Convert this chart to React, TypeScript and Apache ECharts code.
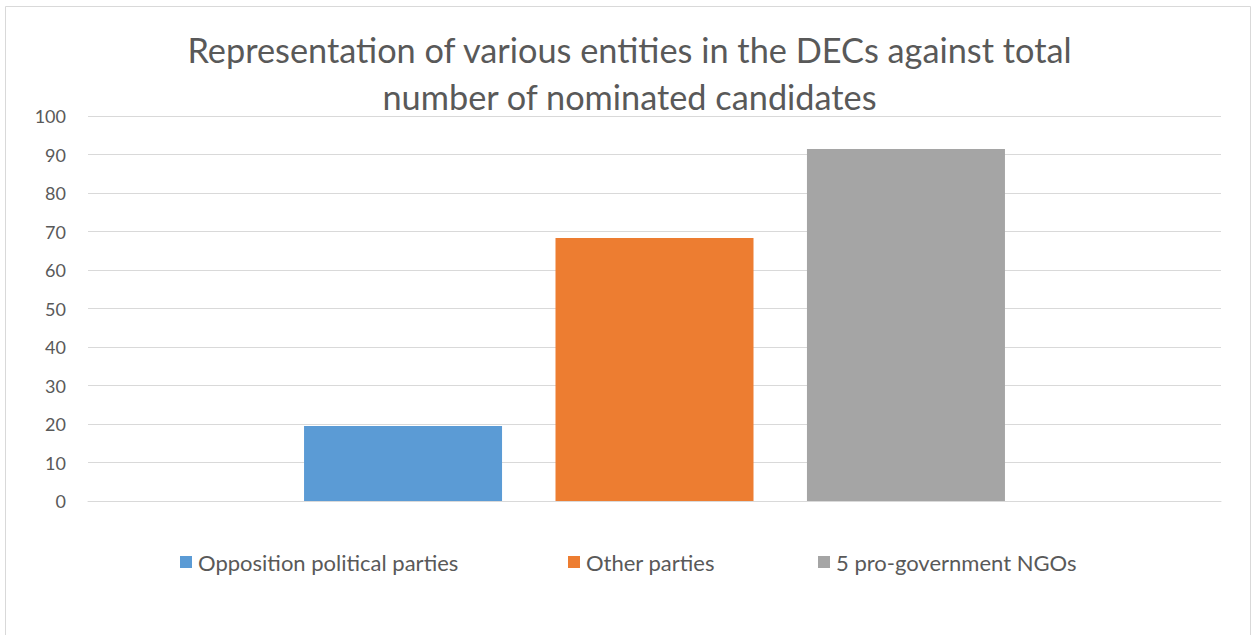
import React, { useEffect, useRef } from "react";
import * as echarts from "echarts";

const categories = [""];
const seriesNames = ["Opposition political parties", "Other parties", "5 pro-government NGOs"];
const seriesValues = [[19.5], [68.3], [91.4]];
const seriesColors = ["#5b9bd5", "#ed7d31", "#a5a5a5"];
const titleLines = ["Representation of various entities in the DECs against total", "number of nominated candidates"];
const legendLefts = [175, 563, 813];

export default function App() {
  const ref = useRef<HTMLDivElement>(null);
  useEffect(() => {
    if (!ref.current) return;
    const chart = echarts.init(ref.current, null, { renderer: "svg" });
    const font = "Lato, 'Open Sans', sans-serif";
    chart.setOption({
      animation: false,
      backgroundColor: "#ffffff",
      title: {
        text: titleLines.join("\n"),
        left: "center",
        top: 21,
        textStyle: { fontFamily: font, fontSize: 34.3, fontWeight: "normal", color: "#595959", lineHeight: 47 },
      },
      graphic: [
        {
          type: "rect",
          shape: { x: 5.5, y: 6.5, width: 1245, height: 700 },
          style: { fill: "none", stroke: "#d9d9d9", lineWidth: 1 },
          silent: true,
        },
      ],
      legend: seriesNames.map((n, i) => ({
        data: [n],
        left: legendLefts[i],
        top: 546,
        itemWidth: 12,
        itemHeight: 12,
        itemGap: 8,
        icon: "rect",
        textStyle: { fontFamily: font, fontSize: 22, color: "#595959", padding: [0, 0, 0, 1] },
      })),
      grid: { left: 88, right: 38, top: 116, bottom: 134, containLabel: false },
      xAxis: {
        type: "category",
        data: categories,
        axisLine: { lineStyle: { color: "#d9d9d9", width: 1 } },
        axisTick: { show: false },
        axisLabel: { show: false },
      },
      yAxis: {
        type: "value",
        min: 0,
        max: 100,
        interval: 10,
        axisLine: { show: false },
        axisTick: { show: false },
        splitLine: { lineStyle: { color: "#d9d9d9", width: 1 } },
        axisLabel: { fontFamily: font, fontSize: 18, color: "#595959", margin: 22 },
      },
      series: seriesNames.map((n, i) => ({
        name: n,
        type: "bar",
        data: seriesValues[i],
        barWidth: 198,
        barGap: "27%",
        itemStyle: { color: seriesColors[i] },
      })),
    });
    return () => chart.dispose();
  }, []);
  return (
    <div
      ref={ref}
      style={{ position: "absolute", left: 0, top: 0, width: 1259, height: 635 }}
    />
  );
}
